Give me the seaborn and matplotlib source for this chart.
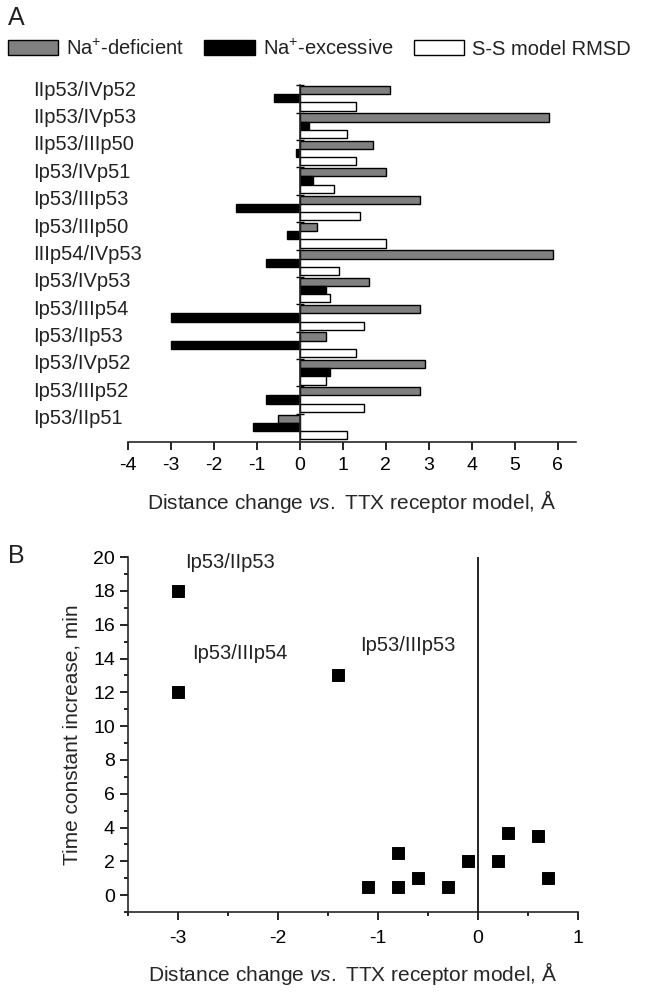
import matplotlib
matplotlib.use("Agg")
import matplotlib.pyplot as plt
import matplotlib.ticker as mticker
from matplotlib.patches import Patch
import numpy as np
import pandas as pd
import seaborn as sns

# panel A data
pairs = ["IIp53/IVp52", "IIp53/IVp53", "IIp53/IIIp50", "Ip53/IVp51", "Ip53/IIIp53",
         "Ip53/IIIp50", "IIIp54/IVp53", "Ip53/IVp53", "Ip53/IIIp54", "Ip53/IIp53",
         "Ip53/IVp52", "Ip53/IIIp52", "Ip53/IIp51"]
na_deficient = [2.1, 5.8, 1.7, 2.0, 2.8, 0.4, 5.9, 1.6, 2.8, 0.6, 2.9, 2.8, -0.5]
na_excessive = [-0.6, 0.2, -0.1, 0.3, -1.5, -0.3, -0.8, 0.6, -3.0, -3.0, 0.7, -0.8, -1.1]
ss_rmsd = [1.3, 1.1, 1.3, 0.8, 1.4, 2.0, 0.9, 0.7, 1.5, 1.3, 0.6, 1.5, 1.1]
series_names = ["Na$^{+}$-deficient", "Na$^{+}$-excessive", "S-S model RMSD"]
series_colors = ["#808080", "#000000", "#ffffff"]

# panel B data
dist_change = [-3.0, -3.0, -1.4, -1.1, -0.8, -0.8, -0.6, -0.3, -0.1, 0.2, 0.3, 0.6, 0.7]
time_const = [18.0, 12.0, 13.0, 0.5, 0.5, 2.5, 1.0, 0.5, 2.0, 2.0, 3.7, 3.5, 1.0]
point_labels = ["Ip53/IIp53", "Ip53/IIIp54", "Ip53/IIIp53"]
label_xy = [(-2.93, 19.7), (-2.86, 14.3), (-1.18, 14.8)]

sns.set_style("ticks")
plt.rcParams["font.family"] = ["Liberation Sans", "DejaVu Sans"]
plt.rcParams["mathtext.fontset"] = "custom"
plt.rcParams["mathtext.rm"] = "Liberation Sans"
plt.rcParams["mathtext.it"] = "Liberation Sans:italic"
plt.rcParams["axes.unicode_minus"] = False
plt.rcParams["axes.linewidth"] = 1.2
plt.rcParams["xtick.color"] = "black"
plt.rcParams["ytick.color"] = "black"
plt.rcParams["text.color"] = "#222222"

xlabel = "Distance change $\\it{vs.}$ TTX receptor model, Å"

fig = plt.figure(figsize=(6.47, 9.94), dpi=100)
ax_a = fig.add_axes([0.198, 0.5553, 0.692, 0.359])
ax_b = fig.add_axes([0.198, 0.0825, 0.695, 0.357])

df = pd.DataFrame({
    "pair": pairs * 3,
    "value": na_deficient + na_excessive + ss_rmsd,
    "series": [series_names[0]] * len(pairs) + [series_names[1]] * len(pairs)
              + [series_names[2]] * len(pairs),
})
sns.barplot(data=df, x="value", y="pair", hue="series", orient="h", order=pairs,
            hue_order=series_names, palette=series_colors, saturation=1, width=0.9,
            edgecolor="black", linewidth=1, legend=False, ax=ax_a)

n = len(pairs)
ax_a.set_xlim(-4, 6.42)
ax_a.set_ylim(n - 0.45, -0.48)
ax_a.spines["left"].set_position(("data", 0))
ax_a.spines["top"].set_visible(False)
ax_a.spines["right"].set_visible(False)
ax_a.set_yticks(np.arange(n) - 0.48)
ax_a.set_yticklabels([])
ax_a.tick_params(axis="y", direction="inout", length=6, width=1)
ax_a.set_xticks(range(-4, 7))
ax_a.tick_params(axis="x", direction="out", length=6, width=1.2, labelsize=14, pad=5)
ax_a.set_ylabel("")
ax_a.set_xlabel(xlabel, fontsize=15, labelpad=10)
for k, name in enumerate(pairs):
    ax_a.text(-0.212, k - 0.3, name, transform=ax_a.get_yaxis_transform(),
              ha="left", va="center", fontsize=14.5)

handles = [Patch(facecolor=c, edgecolor="black", linewidth=1) for c in series_colors]
fig.legend(handles, series_names, loc="center left", bbox_to_anchor=(0.012, 0.951),
           ncol=3, frameon=False, handlelength=2.5, handleheight=0.8,
           handletextpad=0.4, columnspacing=1.0, borderaxespad=0, borderpad=0,
           fontsize=14.5)

sns.scatterplot(x=dist_change, y=time_const, marker="s", color="black", s=72,
                edgecolor="black", ax=ax_b)
ax_b.axvline(0, color="black", linewidth=1.2)
ax_b.set_xlim(-3.5, 1)
ax_b.set_ylim(-1, 20)
ax_b.spines["top"].set_visible(False)
ax_b.spines["right"].set_visible(False)
ax_b.xaxis.set_major_locator(mticker.MultipleLocator(1))
ax_b.xaxis.set_minor_locator(mticker.MultipleLocator(0.5))
ax_b.set_yticks(range(0, 21, 2))
ax_b.yaxis.set_minor_locator(mticker.MultipleLocator(1))
ax_b.tick_params(which="major", direction="out", length=6, width=1.2, labelsize=14)
ax_b.tick_params(axis="x", which="major", pad=7)
ax_b.tick_params(which="minor", direction="out", length=3, width=1.2)
ax_b.set_xlabel(xlabel, fontsize=15, labelpad=9)
ax_b.set_ylabel("Time constant increase, min", fontsize=15, labelpad=8)
for name, (tx, ty) in zip(point_labels, label_xy):
    ax_b.text(tx, ty, name, ha="left", va="center", fontsize=14.5)

fig.text(0.012, 0.982, "A", fontsize=18, ha="left", va="center")
fig.text(0.012, 0.441, "B", fontsize=18, ha="left", va="center")

fig.savefig("out.png", dpi=100)
